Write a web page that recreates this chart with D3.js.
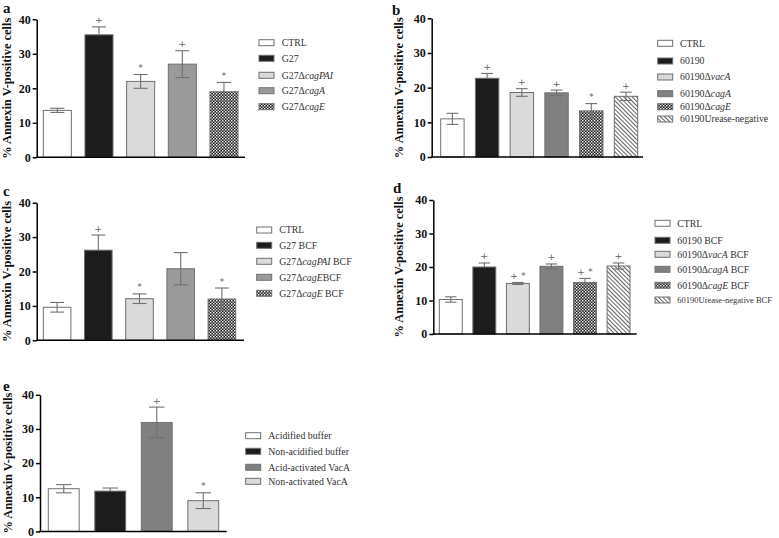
<!DOCTYPE html>
<html><head><meta charset="utf-8">
<script src="https://cdn.jsdelivr.net/npm/d3@7"></script>
<style>body{margin:0;background:#fff}svg{display:block}</style>
</head><body>
<svg id="c" width="779" height="538"></svg>
<script>
// ---- data ----
const yTicks = [0, 10, 20, 30, 40];
const yTitle = "% Annexin V-positive cells";

const aLabels = ["CTRL", "G27", "G27Δ<i>cagPAI</i>", "G27Δ<i>cagA</i>", "G27Δ<i>cagE</i>"];
const aValues = [13.6, 35.5, 22.0, 27.0, 19.0];
const aErrors = [0.6, 2.3, 2.0, 3.9, 2.7];
const aMarks  = ["", "+", "*", "+", "*"];

const bLabels = ["CTRL", "60190", "60190Δ<i>vacA</i>", "60190Δ<i>cagA</i>", "60190Δ<i>cagE</i>", "60190Urease-negative"];
const bValues = [11.0, 22.7, 18.6, 18.5, 13.3, 17.5];
const bErrors = [1.6, 1.4, 1.1, 0.8, 2.1, 1.2];
const bMarks  = ["", "+", "+", "+", "*", "+"];

const cLabels = ["CTRL", "G27 BCF", "G27Δ<i>cagPAI</i> BCF", "G27Δ<i>cagE</i>BCF", "G27Δ<i>cagE</i> BCF"];
const cValues = [9.6, 26.2, 12.1, 20.8, 12.0];
const cErrors = [1.4, 4.4, 1.4, 4.7, 3.2];
const cMarks  = ["", "+", "*", "", "*"];

const dLabels = ["CTRL", "60190 BCF", "60190Δ<i>vacA</i> BCF", "60190Δ<i>cagA</i> BCF", "60190Δ<i>cagE</i> BCF", "60190Urease-negative BCF"];
const dValues = [10.3, 20.0, 15.1, 20.2, 15.4, 20.3];
const dErrors = [0.8, 1.2, 0.3, 0.7, 1.2, 0.9];
const dMarks  = ["", "+", "+ *", "+", "+ *", "+"];

const eLabels = ["Acidified buffer", "Non-acidified buffer", "Acid-activated VacA", "Non-activated VacA"];
const eValues = [12.5, 11.8, 31.9, 9.0];
const eErrors = [1.2, 0.9, 4.5, 2.3];
const eMarks  = ["", "", "+", "*"];

// ---- styles / layout ----
const WHITE = "#ffffff", BLACK = "#1c1c1c", LIGHT = "#dadada", MID = "#9a9a9a", DARK = "#808080";
const CHECK = "url(#check)", HATCH = "url(#hatch)";

const panels = [
  {id:"a", labels:aLabels, values:aValues, errors:aErrors, marks:aMarks,
   fills:[WHITE, BLACK, LIGHT, MID, CHECK],
   axisX:36.7, y0:157.3, y40:19.3, barRange:[43.3, 238], pad:0.327, axisEnd:245,
   titleX:11, tag:[3, 13],
   legX:259, legTextX:281.7, legY:[42.7, 58.3, 75.3, 90.7, 106.7]},
  {id:"b", labels:bLabels, values:bValues, errors:bErrors, marks:bMarks,
   fills:[WHITE, BLACK, LIGHT, DARK, CHECK, HATCH],
   axisX:431.7, y0:157, y40:18.3, barRange:[440.7, 637.7], pad:0.326, axisEnd:643,
   titleX:402.5, tag:[392, 15],
   legX:657.7, legTextX:680, legY:[43.3, 61, 77, 93.7, 106.7, 119]},
  {id:"c", labels:cLabels, values:cValues, errors:cErrors, marks:cMarks,
   fills:[WHITE, BLACK, LIGHT, MID, CHECK],
   axisX:36.7, y0:340.3, y40:202.7, barRange:[43.3, 235.7], pad:0.33, axisEnd:244,
   titleX:11, tag:[3, 196],
   legX:256.7, legTextX:279.3, legY:[230, 245.3, 261.3, 277.3, 293.3]},
  {id:"d", labels:dLabels, values:dValues, errors:dErrors, marks:dMarks,
   fills:[WHITE, BLACK, LIGHT, DARK, CHECK, HATCH],
   axisX:433.3, y0:334, y40:200, barRange:[439.3, 630], pad:0.317, axisEnd:636.7,
   titleX:403, tag:[393, 193],
   legX:655, legTextX:677.3, legY:[223.3, 240.3, 254.3, 269.3, 285.3, 300]},
  {id:"e", labels:eLabels, values:eValues, errors:eErrors, marks:eMarks,
   fills:[WHITE, BLACK, DARK, LIGHT],
   axisX:40, y0:531.4, y40:394.8, barRange:[48.3, 218.7], pad:0.336, axisEnd:226.7,
   titleX:12, tag:[3, 391],
   legX:245.7, legTextX:268.3, legY:[435.7, 451.3, 467.3, 481.3]}
];

const svg = d3.select("#c");
const defs = svg.append("defs");
const chk = defs.append("pattern").attr("id","check").attr("patternUnits","userSpaceOnUse")
  .attr("width",3).attr("height",3);
chk.append("rect").attr("width",3).attr("height",3).attr("fill","#222");
chk.append("rect").attr("width",1.4).attr("height",1.4).attr("fill","#fff");
chk.append("rect").attr("x",1.5).attr("y",1.5).attr("width",1.4).attr("height",1.4).attr("fill","#ddd");
const hat = defs.append("pattern").attr("id","hatch").attr("patternUnits","userSpaceOnUse")
  .attr("width",3).attr("height",3).attr("patternTransform","rotate(-45)");
hat.append("rect").attr("width",3).attr("height",3).attr("fill","#fff");
hat.append("line").attr("x1",0.5).attr("y1",0).attr("x2",0.5).attr("y2",3)
  .attr("stroke","#666").attr("stroke-width",1.1);

const SERIF = "'Liberation Serif','Times New Roman',serif";

function addRich(textSel, str) {
  const parts = str.split(/(<i>.*?<\/i>)/);
  parts.forEach(p => {
    if (!p) return;
    const m = p.match(/^<i>(.*)<\/i>$/);
    textSel.append("tspan").attr("font-style", m ? "italic" : null).text(m ? m[1] : p);
  });
}

panels.forEach(P => {
  const g = svg.append("g");
  const idx = P.values.map((_, i) => i);
  const x = d3.scaleBand().domain(idx).range(P.barRange).paddingInner(P.pad).paddingOuter(0);
  const y = d3.scaleLinear().domain([0, 40]).range([P.y0, P.y40]);

  // bars
  g.selectAll("rect.bar").data(idx).join("rect").attr("class","bar")
    .attr("x", i => x(i)).attr("width", x.bandwidth())
    .attr("y", i => y(P.values[i])).attr("height", i => y(0) - y(P.values[i]))
    .attr("fill", i => P.fills[i]).attr("stroke", "#707070").attr("stroke-width", 1);

  // error bars
  const eg = g.append("g").attr("stroke", "#707070").attr("stroke-width", 1.1).attr("fill","none");
  idx.forEach(i => {
    const cx = x(i) + x.bandwidth() / 2, hw = x.bandwidth() / 4;
    const top = y(P.values[i] + P.errors[i]), mid = y(P.values[i]), bot = y(P.values[i] - P.errors[i]);
    eg.append("line").attr("x1", cx).attr("x2", cx).attr("y1", top).attr("y2", mid);
    eg.append("line").attr("x1", cx - hw).attr("x2", cx + hw).attr("y1", top).attr("y2", top);
    if (P.fills[i] !== BLACK) {
      eg.append("line").attr("x1", cx).attr("x2", cx).attr("y1", mid).attr("y2", bot);
      eg.append("line").attr("x1", cx - hw).attr("x2", cx + hw).attr("y1", bot).attr("y2", bot);
    }
    if (P.marks[i]) {
      g.append("text").attr("x", cx).attr("y", top - 3.5).attr("text-anchor","middle")
        .attr("font-family", "'DejaVu Sans',sans-serif").attr("font-size", 9.5).attr("fill","#666")
        .text(P.marks[i]);
    }
  });

  // y axis
  const ax = g.append("g").attr("transform", `translate(${P.axisX},0)`)
    .call(d3.axisLeft(y).tickValues(yTicks).tickSize(4).tickSizeOuter(0).tickPadding(2));
  ax.select(".domain").attr("stroke","#000").attr("stroke-width",1.5);
  ax.selectAll(".tick line").attr("stroke","#000").attr("stroke-width",1.5);
  ax.selectAll(".tick text").attr("font-family", SERIF).attr("font-weight","bold")
    .attr("font-size", 12).attr("fill","#111");

  // x axis line
  g.append("line").attr("x1", P.axisX - 0.75).attr("x2", P.axisEnd)
    .attr("y1", y(0)).attr("y2", y(0)).attr("stroke","#000").attr("stroke-width",1.5);

  // y title
  g.append("text").attr("transform", `translate(${P.titleX},${(y(0)+y(40))/2}) rotate(-90)`)
    .attr("text-anchor","middle").attr("font-family", SERIF).attr("font-weight","bold")
    .attr("font-size", 12.4).attr("fill","#111").text(yTitle);

  // panel tag
  g.append("text").attr("x", P.tag[0]).attr("y", P.tag[1]).attr("font-family", SERIF)
    .attr("font-weight","bold").attr("font-size", 15).attr("fill","#111").text(P.id);

  // legend
  P.labels.forEach((lab, i) => {
    const ly = P.legY[i];
    g.append("rect").attr("x", P.legX).attr("y", ly - 3).attr("width", 15).attr("height", 6)
      .attr("fill", P.fills[i]).attr("stroke", "#707070").attr("stroke-width", 1);
    const t = g.append("text").attr("x", P.legTextX).attr("y", ly + 3.4)
      .attr("font-family", SERIF).attr("font-size", 9.8).attr("fill","#333");
    addRich(t, lab);
    const maxW = 772 - P.legTextX;
    const w = t.node().getComputedTextLength();
    if (w > maxW) t.attr("font-size", (9.8 * maxW / w).toFixed(2));
  });
});
</script>
</body></html>
